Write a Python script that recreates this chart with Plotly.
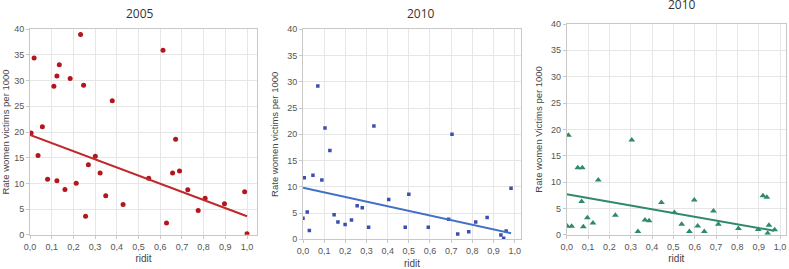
import plotly.graph_objects as go

# ---------------- data ----------------
ridit_2005 = [0.019, 0.233, 0.613, 0.135, 0.124, 0.185, 0.110, 0.247, 0.379, 0.057,
              0.005, 0.037, 0.081, 0.124, 0.161, 0.213, 0.256, 0.269, 0.301, 0.323,
              0.349, 0.429, 0.547, 0.629, 0.657, 0.671, 0.689, 0.727, 0.775, 0.807,
              0.896, 0.989, 1.000]
rate_2005 = [34.4, 39.0, 35.9, 33.1, 30.9, 30.4, 28.9, 29.1, 26.1, 21.0,
             19.8, 15.4, 10.8, 10.5, 8.8, 10.0, 3.6, 13.6, 15.3, 12.0,
             7.6, 5.9, 11.0, 2.3, 12.0, 18.6, 12.4, 8.75, 4.7, 7.1,
             6.05, 8.35, 0.2]
trend_x_2005 = [0.0, 1.0]
trend_y_2005 = [19.45, 3.6]

ridit_2010a = [0.070, 0.104, 0.335, 0.704, 0.006, 0.000, 0.020, 0.030, 0.047, 0.089,
               0.127, 0.147, 0.165, 0.199, 0.229, 0.256, 0.280, 0.310, 0.405, 0.483,
               0.500, 0.592, 0.688, 0.731, 0.783, 0.816, 0.870, 0.935, 0.948, 0.960,
               0.983]
rate_2010a = [29.2, 21.2, 21.6, 20.0, 11.7, 4.0, 5.2, 1.7, 12.2, 11.3,
              16.9, 4.7, 3.3, 2.8, 3.7, 6.4, 6.0, 2.3, 7.6, 2.3,
              8.6, 2.3, 3.8, 1.0, 1.45, 3.3, 4.15, 0.8, 0.2, 1.6,
              9.7]
trend_x_2010a = [0.0, 0.983]
trend_y_2010a = [9.8, 1.15]

ridit_2010b = [0.008, 0.003, 0.023, 0.052, 0.073, 0.070, 0.078, 0.097, 0.123, 0.148,
               0.228, 0.305, 0.334, 0.367, 0.386, 0.444, 0.505, 0.539, 0.575, 0.598,
               0.614, 0.645, 0.688, 0.711, 0.805, 0.898, 0.920, 0.938, 0.942, 0.948,
               0.975]
rate_2010b = [18.9, 1.6, 1.6, 12.7, 12.7, 6.3, 1.5, 3.2, 2.2, 10.4,
              3.7, 18.0, 0.6, 2.8, 2.65, 6.1, 4.2, 2.0, 0.6, 6.6,
              1.65, 0.6, 4.5, 2.0, 1.2, 1.0, 7.4, 7.1, 0.27, 1.8,
              0.95]
trend_x_2010b = [0.0, 0.973]
trend_y_2010b = [7.66, 0.76]

titles = ["2005", "2010", "2010"]
y_titles = ["Rate women victims per 1000", "Rate women victims per 1000",
            "Rate women Victims per 1000"]
x_title = "ridit"
x_ticks = [0.0, 0.1, 0.2, 0.3, 0.4, 0.5, 0.6, 0.7, 0.8, 0.9, 1.0]
y_ticks = [0, 5, 10, 15, 20, 25, 30, 35, 40]

# ---------------- figure ----------------
W, H = 789, 269
panels = [
    dict(x=ridit_2005, y=rate_2005, tx=trend_x_2005, ty=trend_y_2005,
         mcolor="#b3161c", lcolor="#c0282b", symbol="circle", msize=5,
         px=(30, 257), py=(29.3, 234.7), xmax=1.046, title_pos=(140, 14)),
    dict(x=ridit_2010a, y=rate_2010a, tx=trend_x_2010a, ty=trend_y_2010a,
         mcolor="#3b4fae", lcolor="#4170c8", symbol="square", msize=3.5,
         px=(303, 521), py=(29.3, 239.3), xmax=1.03, title_pos=(421, 14)),
    dict(x=ridit_2010b, y=rate_2010b, tx=trend_x_2010b, ty=trend_y_2010b,
         mcolor="#2f8a6a", lcolor="#2f8a6a", symbol="triangle-up", msize=6,
         px=(566.7, 786), py=(24, 234.7), xmax=1.028, title_pos=(682, 4.5)),
]

fig = go.Figure()
tick_font = dict(family="Liberation Sans, Arial", size=9, color="#555555")
for i, p in enumerate(panels):
    n = "" if i == 0 else str(i + 1)
    fig.add_trace(go.Scatter(x=p["x"], y=p["y"], mode="markers",
                             marker=dict(color=p["mcolor"], size=p["msize"], symbol=p["symbol"],
                                         line=dict(width=0)),
                             xaxis="x" + n, yaxis="y" + n, showlegend=False))
    fig.add_trace(go.Scatter(x=p["tx"], y=p["ty"], mode="lines",
                             line=dict(color=p["lcolor"], width=2),
                             xaxis="x" + n, yaxis="y" + n, showlegend=False))
    ax = dict(domain=[p["px"][0] / W, p["px"][1] / W], range=[0, p["xmax"]],
              tickvals=x_ticks, tickformat=".1f", tickfont=tick_font,
              showgrid=True, gridcolor="#e6e6e6", gridwidth=1,
              showline=True, linecolor="#c8c8c8", linewidth=1, mirror=True,
              ticks="outside", ticklen=3, tickcolor="#c8c8c8", zeroline=False,
              ticklabeloverflow="allow", automargin=False,
              title=dict(text=x_title, font=dict(family="Liberation Sans, Arial", size=10,
                                                 color="#444444"), standoff=4),
              anchor="y" + n, fixedrange=True)
    ay = dict(domain=[1 - p["py"][1] / H, 1 - p["py"][0] / H], range=[0, 40],
              tickvals=y_ticks, tickfont=tick_font,
              showgrid=True, gridcolor="#e6e6e6", gridwidth=1,
              showline=True, linecolor="#c8c8c8", linewidth=1, mirror=True,
              ticks="outside", ticklen=3, tickcolor="#c8c8c8", zeroline=False,
              ticklabeloverflow="allow", automargin=False,
              title=dict(text=y_titles[i], font=dict(family="Liberation Sans, Arial", size=9.5,
                                                     color="#444444"), standoff=6),
              anchor="x" + n, fixedrange=True)
    fig.update_layout({"xaxis" + n: ax, "yaxis" + n: ay})
    fig.add_annotation(text=titles[i], x=p["title_pos"][0] / W, y=1 - p["title_pos"][1] / H,
                       xref="paper", yref="paper", xanchor="center", yanchor="middle",
                       showarrow=False,
                       font=dict(family="Open Sans, Lato", size=12, color="#333333"))

fig.update_layout(width=W, height=H, margin=dict(l=0, r=0, t=0, b=0, autoexpand=False),
                  paper_bgcolor="white", plot_bgcolor="white", separators=", ",
                  hovermode=False)
fig.write_html("out.html", config={"displayModeBar": False, "staticPlot": True},
               post_script="document.body.style.margin='0';document.body.style.overflow='hidden';")
